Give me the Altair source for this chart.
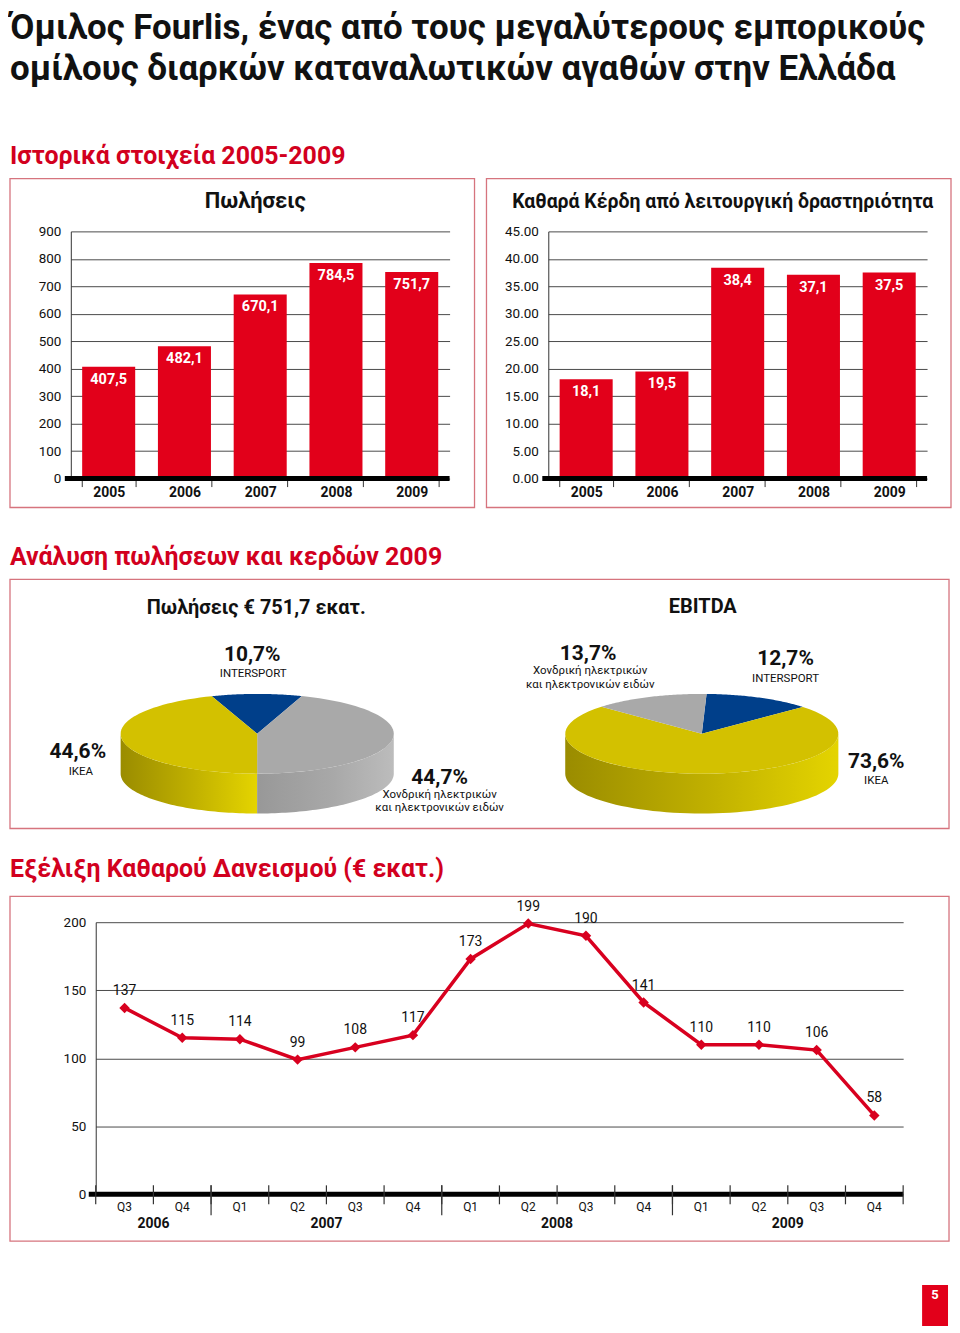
import altair as alt
import pandas as pd

# ---------------- data ----------------
years = ["2005", "2006", "2007", "2008", "2009"]
sales = [407.5, 482.1, 670.1, 784.5, 751.7]
profit = [18.1, 19.5, 38.4, 37.1, 37.5]

sales_segments = ["INTERSPORT", "Χονδρική", "IKEA"]
sales_share = [10.7, 44.7, 44.6]
ebitda_segments = ["INTERSPORT", "IKEA", "Χονδρική"]
ebitda_share = [12.7, 73.6, 13.7]

debt_years = ["2006", "2006", "2007", "2007", "2007", "2007", "2008", "2008",
              "2008", "2008", "2009", "2009", "2009", "2009"]
debt_quarters = ["Q3", "Q4", "Q1", "Q2", "Q3", "Q4", "Q1", "Q2",
                 "Q3", "Q4", "Q1", "Q2", "Q3", "Q4"]
debt = [137, 115, 114, 99, 108, 117, 173, 199, 190, 141, 110, 110, 106, 58]

# ---------------- style ----------------
FONT = "Roboto, Liberation Sans, Noto Sans, sans-serif"
RED = "#e2001a"
HEAD_RED = "#d2001e"
LRED = "#d8001f"
FRAME = "#d6747e"
GRID = "#4a4a4a"
INK = "#111111"
BLUE = "#003f8a"
GRAY = "#a9a9a9"
YELLOW = "#d3c100"
TOTAL_W = 942

ONE = pd.DataFrame({"k": [0]})


def frame_layer(x1, x2, y1, y2):
    return alt.Chart(ONE).mark_rect(fill="#ffffff", fillOpacity=0, stroke=FRAME, strokeWidth=1.3).encode(
        x=alt.value(x1), x2=alt.value(x2), y=alt.value(y1), y2=alt.value(y2))


def text_layer(txt, x, y, size, weight="normal", color=INK, align="center", baseline="alphabetic"):
    return alt.Chart(ONE).mark_text(text=txt, fontSize=size, fontWeight=weight, color=color, align=align,
                                    baseline=baseline, font=FONT).encode(x=alt.value(x), y=alt.value(y))


def row(content):
    # a 1px invisible anchor keeps every row's left edge on the same page column
    spacer = alt.Chart(ONE).mark_rect(opacity=0).encode(
        x=alt.value(0), x2=alt.value(1), y=alt.value(0), y2=alt.value(1)).properties(width=1, height=1)
    return alt.hconcat(spacer, content, spacing=0)


# ---------------- bar panels ----------------
def bar_panel(vals, title, title_x, title_size, ymax, ystep, fmt, fx1, fw):
    W, H = 380, 248
    df = pd.DataFrame({"year": years, "v": vals,
                       "lab": [f"{v:.1f}".replace(".", ",") for v in vals]})
    xenc = alt.X("year:N", sort=years, title=None,
                 scale=alt.Scale(paddingInner=0.3, paddingOuter=0.15),
                 axis=alt.Axis(domain=False, ticks=True, tickBand="extent", tickSize=8, tickColor="#333333",
                               tickWidth=1, labelFontSize=14, labelFontWeight="bold", labelPadding=-1,
                               labelAngle=0, labelFont=FONT, labelColor=INK))
    nt = int(round(ymax / ystep))
    vals_axis = [i * ystep for i in range(nt + 1)]
    yenc = alt.Y("v:Q", title=None, scale=alt.Scale(domain=[0, ymax], nice=False),
                 axis=alt.Axis(values=vals_axis, tickCount=len(vals_axis), format=fmt, grid=True,
                               gridColor=GRID, gridWidth=1, domain=True, domainColor="#333333",
                               ticks=False, labelPadding=10, labelFontSize=13.5, labelFont=FONT,
                               labelColor=INK, labelOverlap=False))
    base = alt.Chart(df)
    bars = base.mark_bar(color=RED).encode(x=xenc, y=yenc)
    labels = base.mark_text(color="white", fontWeight="bold", fontSize=14.5, baseline="top", dy=6,
                            font=FONT).encode(x=alt.X("year:N", sort=years), y="v:Q", text="lab:N")
    zero = alt.Chart(ONE).mark_rule(color="black", strokeWidth=5).encode(
        y=alt.datum(0), x=alt.value(-6), x2=alt.value(W))
    ttl = text_layer(title, title_x, -23, title_size, weight="bold")
    return alt.layer(frame_layer(fx1, fx1 + fw, -53, 277), bars, labels, zero, ttl).properties(
        width=W, height=H)


FW = (TOTAL_W - 10) / 2
left = bar_panel(sales, "Πωλήσεις", 185, 22, 900, 100, "d", -61, FW)
right = bar_panel(profit, "Καθαρά Κέρδη από λειτουργική δραστηριότητα", 175, 19.5, 45, 5, ".2f", -62, FW)
bars_row = alt.hconcat(left, right, spacing=10)

# ---------------- header rows ----------------
header = alt.layer(
    text_layer("Όμιλος Fourlis, ένας από τους μεγαλύτερους εμπορικούς", 1, 29, 35, "bold", align="left"),
    text_layer("ομίλους διαρκών καταναλωτικών αγαθών στην Ελλάδα", 1, 70, 35, "bold", align="left"),
    text_layer("Ιστορικά στοιχεία 2005-2009", 1, 154, 25, "bold", HEAD_RED, align="left"),
).properties(width=TOTAL_W, height=168)

head2 = text_layer("Ανάλυση πωλήσεων και κερδών 2009", 1, 57, 25, "bold", HEAD_RED, align="left").properties(
    width=TOTAL_W, height=70)
head3 = text_layer("Εξέλιξη Καθαρού Δανεισμού (€ εκατ.)", 1, 48, 25, "bold", HEAD_RED, align="left").properties(
    width=TOTAL_W, height=66)

# ---------------- pies (3D ellipse look) ----------------
PW, PH = TOTAL_W, 250
A, B, D = 137.0, 40.0, 40.0          # ellipse half-axes and depth in px
CX = {"sales": 248 / A, "ebitda": 694 / A}
CY = 95 / B
ROT = {"sales": -19.4, "ebitda": 2.0}
N = 60

pie_df = pd.DataFrame({
    "pie": ["sales"] * len(sales_share) + ["ebitda"] * len(ebitda_share),
    "seg": sales_segments + ebitda_segments,
    "share": sales_share + ebitda_share,
    "order": list(range(len(sales_share))) + list(range(len(ebitda_share))),
})

xs = alt.Scale(domain=[0, PW / A], nice=False, zero=False)
ys = alt.Scale(domain=[0, PH / B], nice=False, zero=False)


def pie_base(steps):
    d = pie_df.copy()
    d["step"] = [steps] * len(d)
    return (alt.Chart(d)
            .transform_window(cum="sum(share)", groupby=["pie"], sort=[alt.SortField("order")])
            .transform_calculate(
                rot=f"datum.pie == 'sales' ? {ROT['sales']} : {ROT['ebitda']}",
                cx=f"datum.pie == 'sales' ? {CX['sales']} : {CX['ebitda']}",
                sid="datum.pie + '-' + datum.seg")
            .transform_calculate(
                t0="(datum.rot + 3.6 * (datum.cum - datum.share)) * PI / 180",
                t1="(datum.rot + 3.6 * datum.cum) * PI / 180")
            .transform_flatten(["step"]))


seg_domain = ["INTERSPORT", "Χονδρική", "IKEA"]
seg_range = [BLUE, GRAY, YELLOW]

top = (pie_base([-1] + list(range(N + 1)))
       .transform_calculate(ang=f"datum.t0 + (datum.t1 - datum.t0) * max(datum.step, 0) / {N}")
       .transform_calculate(
           px="datum.step < 0 ? datum.cx : datum.cx + sin(datum.ang)",
           py=f"datum.step < 0 ? {CY} : {CY} + cos(datum.ang)")
       .mark_line(filled=True, strokeWidth=0.6)
       .encode(x=alt.X("px:Q", scale=xs, axis=None), y=alt.Y("py:Q", scale=ys, axis=None),
               color=alt.Color("seg:N", scale=alt.Scale(domain=seg_domain, range=seg_range), legend=None),
               order=alt.Order("step:Q"), detail="sid:N"))

side_grad = {
    "IKEA": ["#9a8c00", "#c2b200", "#e4d400"],
    "Χονδρική": ["#989898", "#a8a8a8", "#bcbcbc"],
    "INTERSPORT": ["#00285c", "#003a80", "#0a4b98"],
}


def side_layer(seg):
    g = side_grad[seg]
    grad = alt.LinearGradient(gradient="linear", x1=0, x2=1, y1=0, y2=0,
                              stops=[alt.GradientStop(color=g[0], offset=0),
                                     alt.GradientStop(color=g[1], offset=0.55),
                                     alt.GradientStop(color=g[2], offset=1)])
    return (pie_base(list(range(2 * N + 2)))
            .transform_filter(alt.datum.seg == seg)
            .transform_calculate(a0="max(datum.t0, PI / 2)", a1="min(datum.t1, 3 * PI / 2)")
            .transform_filter("datum.a1 > datum.a0")
            .transform_calculate(
                ang=f"datum.step <= {N} ? datum.a0 + (datum.a1 - datum.a0) * datum.step / {N} : "
                    f"datum.a1 - (datum.a1 - datum.a0) * (datum.step - {N} - 1) / {N}")
            .transform_calculate(
                px="datum.cx + sin(datum.ang)",
                py=f"{CY} + cos(datum.ang) - (datum.step > {N} ? {D / B} : 0)")
            .mark_line(filled=True, fill=grad, strokeWidth=0)
            .encode(x=alt.X("px:Q", scale=xs, axis=None), y=alt.Y("py:Q", scale=ys, axis=None),
                    order=alt.Order("step:Q"), detail="sid:N"))


pie_texts = [
    text_layer("Πωλήσεις € 751,7 εκατ.", 247, 35, 20, "bold"),
    text_layer("EBITDA", 695, 34, 20, "bold"),
    text_layer("10,7%", 243, 82, 21, "bold"),
    text_layer("INTERSPORT", 244, 98, 11.5),
    text_layer("44,6%", 68, 179, 21, "bold"),
    text_layer("IKEA", 71, 196, 11.5),
    text_layer("44,7%", 431, 205, 21, "bold"),
    text_layer("Χονδρική ηλεκτρικών", 431, 219, 11.5),
    text_layer("και ηλεκτρονικών ειδών", 431, 232, 11.5),
    text_layer("13,7%", 580, 81, 21, "bold"),
    text_layer("Χονδρική ηλεκτρικών", 582, 95, 11.5),
    text_layer("και ηλεκτρονικών ειδών", 582, 109, 11.5),
    text_layer("12,7%", 778, 86, 21, "bold"),
    text_layer("INTERSPORT", 778, 103, 11.5),
    text_layer("73,6%", 869, 189, 21, "bold"),
    text_layer("IKEA", 869, 205, 11.5),
]

pies = alt.layer(frame_layer(0, PW, 0, PH), side_layer("IKEA"), side_layer("Χονδρική"),
                 side_layer("INTERSPORT"), top, *pie_texts).properties(width=PW, height=PH)

# ---------------- line chart ----------------
LW, LH = 810, 273
keys = [f"{y} {q}" for y, q in zip(debt_years, debt_quarters)]
ldf = pd.DataFrame({"key": keys, "year": debt_years, "v": debt})

lx = alt.X("key:N", sort=keys, title=None, bandPosition=0.5,
           scale=alt.Scale(type="band", paddingInner=0, paddingOuter=0),
           axis=alt.Axis(domain=False, ticks=False, labelExpr="split(datum.value, ' ')[1]",
                         labelPadding=7, labelFontSize=12, labelAngle=0, labelFont=FONT, labelColor=INK))
ly = alt.Y("v:Q", title=None, scale=alt.Scale(domain=[0, 200], nice=False),
           axis=alt.Axis(values=[0, 50, 100, 150, 200], tickCount=5, grid=True, gridColor=GRID, gridWidth=1,
                         domain=True, domainColor="#333333", ticks=False, labelPadding=10, labelFontSize=13.5,
                         labelFont=FONT, labelColor=INK))
lbase = alt.Chart(ldf)
lline = lbase.mark_line(color=LRED, strokeWidth=3.5).encode(x=lx, y=ly)
lpts = lbase.mark_point(shape="diamond", filled=True, size=110, color=LRED, opacity=1).encode(
    x=alt.X("key:N", sort=keys, bandPosition=0.5), y="v:Q")
llab = lbase.mark_text(dy=-17, fontSize=14, font=FONT, color=INK).encode(
    x=alt.X("key:N", sort=keys, bandPosition=0.5), y="v:Q", text="v:Q")
lzero = alt.Chart(ONE).mark_rule(color="black", strokeWidth=5).encode(
    y=alt.datum(0), x=alt.value(-7), x2=alt.value(LW))
qticks = lbase.mark_rule(color="#333333", strokeWidth=1.2).encode(
    x=alt.X("key:N", sort=keys, bandPosition=0), y=alt.value(LH - 9), y2=alt.value(LH + 10))
qend = alt.Chart(ldf.tail(1)).mark_rule(color="#333333", strokeWidth=1.2).encode(
    x=alt.X("key:N", sort=keys, bandPosition=1), y=alt.value(LH - 9), y2=alt.value(LH + 10))

yr_list = list(dict.fromkeys(debt_years))
yr_keys = [[k for k, y in zip(keys, debt_years) if y == yy] for yy in yr_list]
ydf = pd.DataFrame({"year": yr_list, "first": [g[0] for g in yr_keys],
                    "mid": [g[len(g) // 2] for g in yr_keys]})
yticks = alt.Chart(ydf.iloc[1:]).mark_rule(color="#333333", strokeWidth=1.2).encode(
    x=alt.X("first:N", sort=keys, bandPosition=0), y=alt.value(LH - 9), y2=alt.value(LH + 21))
ylabs = alt.Chart(ydf).mark_text(fontSize=14, fontWeight="bold", font=FONT, color=INK, baseline="middle").encode(
    x=alt.X("mid:N", sort=keys, bandPosition=0), y=alt.value(LH + 30), text="year:N")

line_panel = alt.layer(frame_layer(-86, -86 + TOTAL_W, -26, 320), lline, lzero, qticks, qend, yticks, lpts,
                       llab, ylabs).properties(width=LW, height=LH)

# ---------------- page number ----------------
pagenum = alt.layer(
    alt.Chart(ONE).mark_rect(color=RED).encode(x=alt.value(TOTAL_W - 26), x2=alt.value(TOTAL_W),
                                                y=alt.value(43), y2=alt.value(84)),
    text_layer("5", TOTAL_W - 13, 57, 13, "bold", "white"),
).properties(width=TOTAL_W, height=84)

chart = alt.vconcat(row(header), row(bars_row), row(head2), row(pies), row(head3), row(line_panel),
                    row(pagenum), spacing=0).properties(padding=0).configure_view(stroke=None)

chart.save("out.html", embed_options={"renderer": "svg", "actions": False})
